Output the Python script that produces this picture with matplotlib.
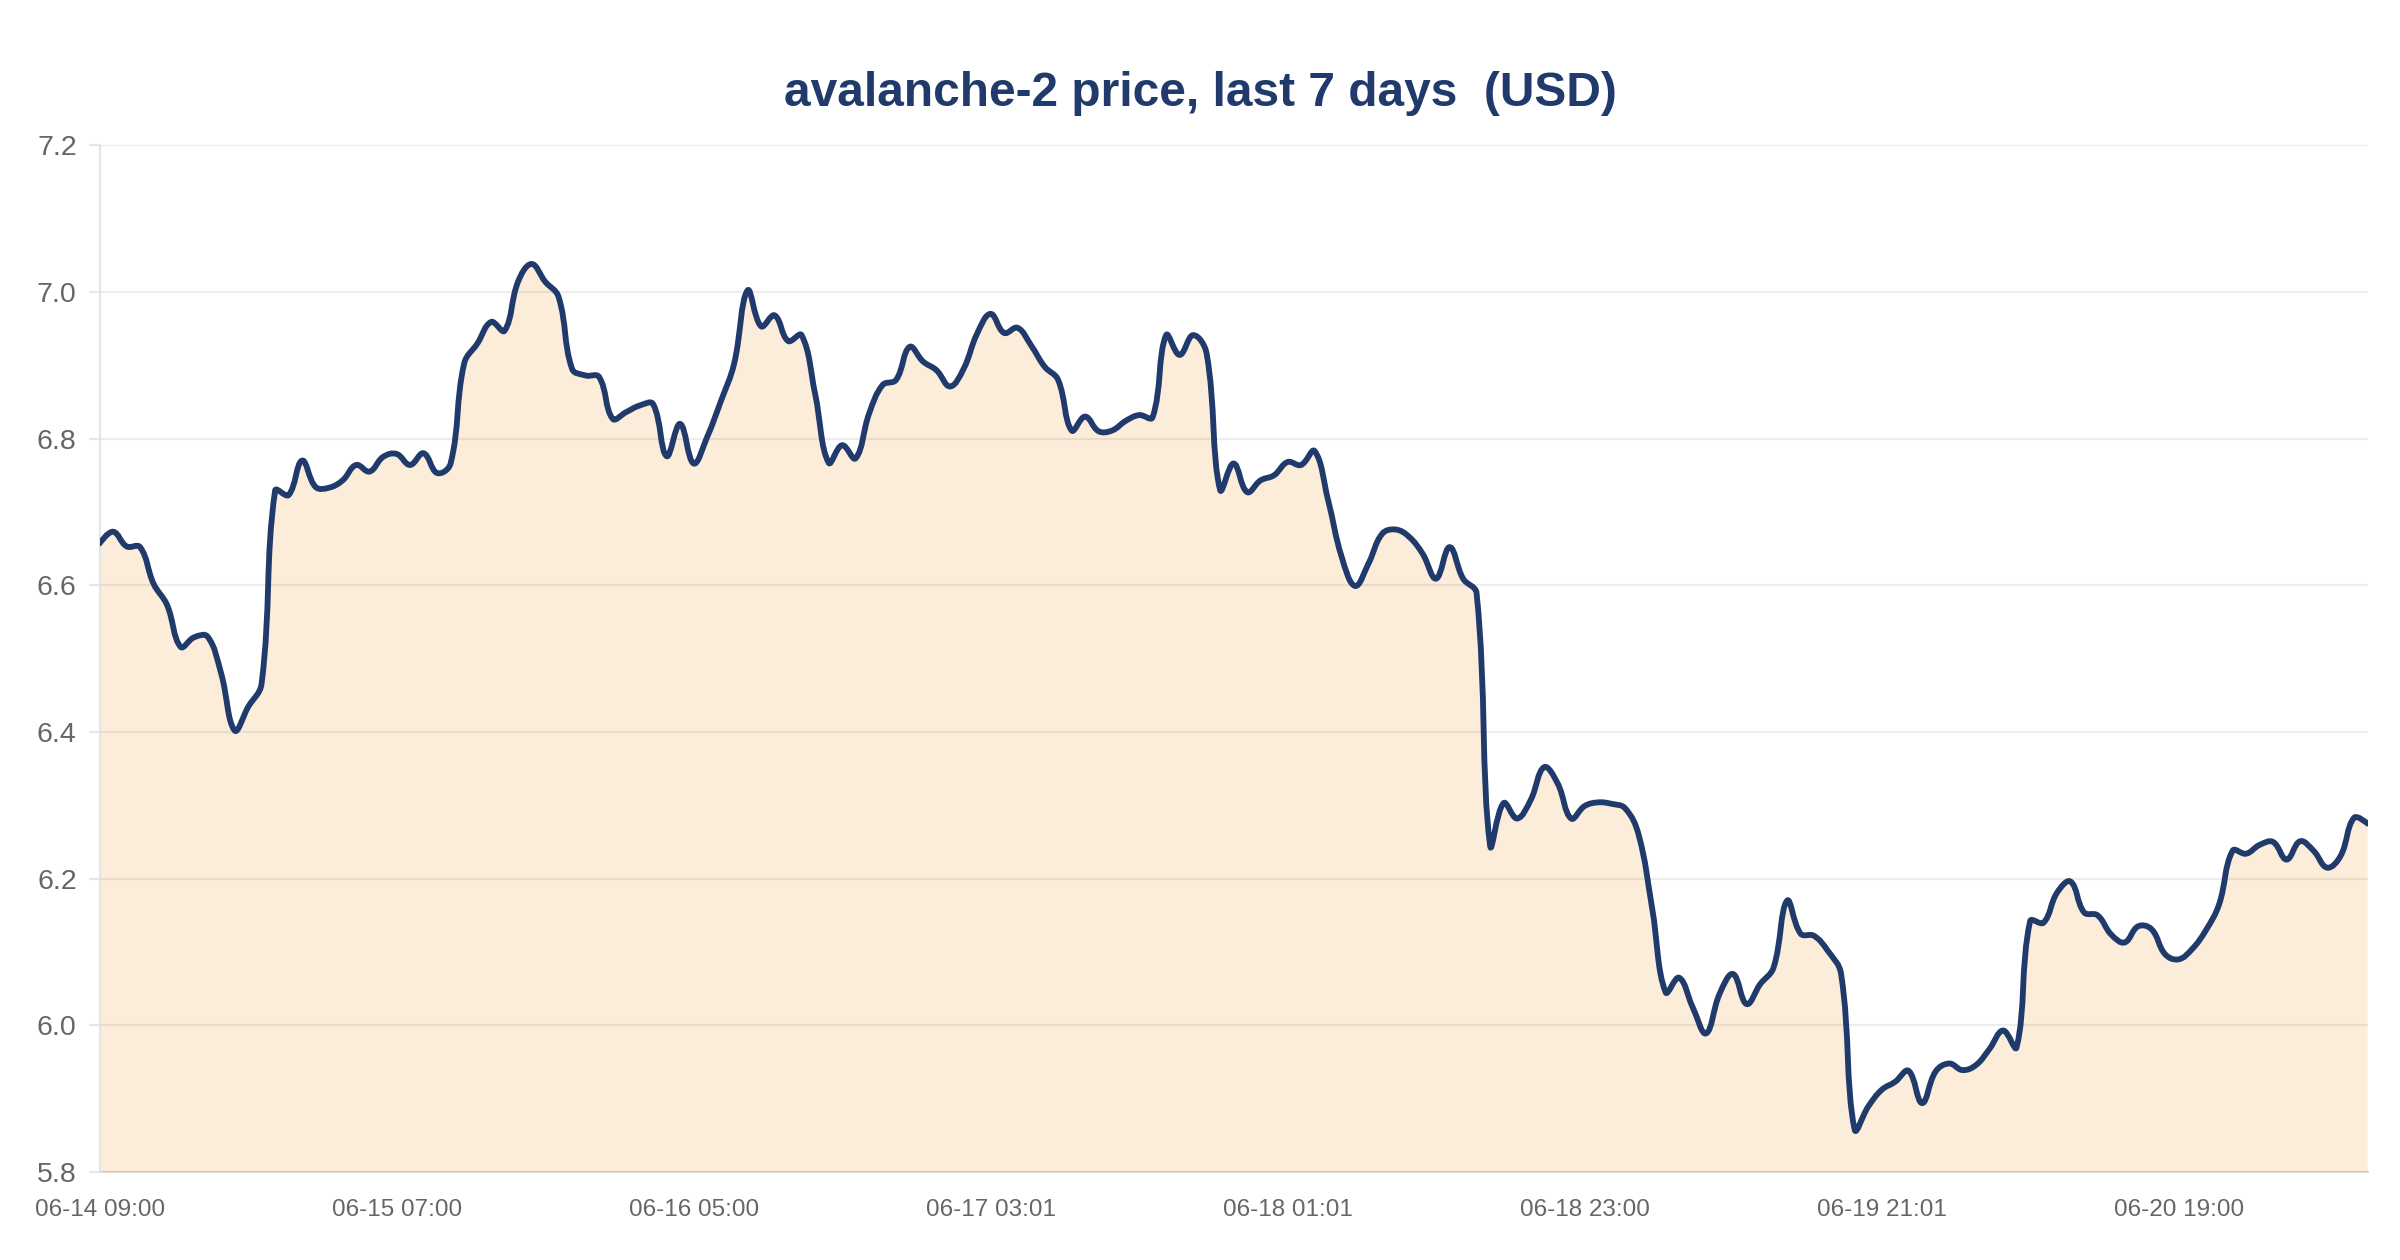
import numpy as np
import matplotlib
matplotlib.use("Agg")
import matplotlib.pyplot as plt
from matplotlib.path import Path
from matplotlib.patches import PathPatch

# hourly prices, 06-14 09:00 -> 06-21 09:00 (169 points)
prices = [
    6.657, 6.673, 6.653, 6.652, 6.602, 6.573, 6.516, 6.529, 6.530, 6.480,
    6.402, 6.434, 6.466, 6.729, 6.723, 6.770, 6.734, 6.733, 6.743, 6.764,
    6.755, 6.775, 6.779, 6.764, 6.780, 6.753, 6.766, 6.902, 6.930, 6.959,
    6.947, 7.014, 7.038, 7.014, 6.993, 6.895, 6.886, 6.884, 6.827, 6.836,
    6.845, 6.847, 6.776, 6.820, 6.766, 6.802, 6.850, 6.902, 7.002, 6.953,
    6.968, 6.933, 6.941, 6.861, 6.767, 6.791, 6.773, 6.834, 6.873, 6.880,
    6.925, 6.905, 6.893, 6.871, 6.895, 6.943, 6.970, 6.944, 6.951, 6.927,
    6.898, 6.880, 6.811, 6.830, 6.810, 6.811, 6.824, 6.832, 6.829, 6.941,
    6.914, 6.941, 6.916, 6.730, 6.766, 6.727, 6.743, 6.750, 6.768, 6.764,
    6.783, 6.716, 6.639, 6.599, 6.630, 6.670, 6.676, 6.666, 6.643, 6.609,
    6.652, 6.609, 6.589, 6.245, 6.303, 6.282, 6.307, 6.352, 6.330, 6.282,
    6.299, 6.304, 6.302, 6.296, 6.260, 6.160, 6.045, 6.065, 6.025, 5.989,
    6.043, 6.070, 6.029, 6.056, 6.079, 6.170, 6.125, 6.122, 6.102, 6.070,
    5.858, 5.889, 5.912, 5.923, 5.938, 5.894, 5.937, 5.948, 5.939, 5.946,
    5.968, 5.993, 5.970, 6.142, 6.140, 6.181, 6.196, 6.154, 6.150, 6.124,
    6.113, 6.135, 6.131, 6.097, 6.090, 6.104, 6.129, 6.165, 6.238, 6.234,
    6.246, 6.250, 6.226, 6.251, 6.238, 6.215, 6.231, 6.283, 6.275,
]
tick_pos = [0, 22, 44, 66, 88, 110, 132, 154]
tick_labels = ["06-14 09:00", "06-15 07:00", "06-16 05:00", "06-17 03:01",
               "06-18 01:01", "06-18 23:00", "06-19 21:01", "06-20 19:00"]
y_ticks = [5.8, 6.0, 6.2, 6.4, 6.6, 6.8, 7.0, 7.2]

line_col = "#1f3a6b"
fill_col = "#fcecda"

plt.rcParams['font.family'] = ['Liberation Sans', 'DejaVu Sans']

fig = plt.figure(figsize=(24, 12.6), dpi=100)
ax = fig.add_axes([0.0415, 0.0698, 0.945, 0.815])
ax.set_xlim(0, len(prices) - 1)
ax.set_ylim(y_ticks[0], y_ticks[-1])

# smooth curve (spline with tension 0.4, computed in pixel space)
x = np.arange(len(prices))
pts = ax.transData.transform(np.column_stack([x, prices]))
t = 0.4
n = len(pts)
cp_prev = pts.copy()
cp_next = pts.copy()
for i in range(1, n - 1):
    p0, p1, p2 = pts[i - 1], pts[i], pts[i + 1]
    d01 = np.hypot(*(p1 - p0))
    d12 = np.hypot(*(p2 - p1))
    fa = t * d01 / (d01 + d12)
    fb = t * d12 / (d01 + d12)
    cp_prev[i] = p1 - fa * (p2 - p0)
    cp_next[i] = p1 + fb * (p2 - p0)

verts = [pts[0]]
codes = [Path.MOVETO]
for i in range(n - 1):
    verts += [cp_next[i], cp_prev[i + 1], pts[i + 1]]
    codes += [Path.CURVE4] * 3
inv = ax.transData.inverted()
verts = inv.transform(np.array(verts))

curve = Path(verts, codes)
fill_verts = np.vstack([verts, [[x[-1], y_ticks[0]], [x[0], y_ticks[0]], [x[0], y_ticks[0]]]])
fill_codes = codes + [Path.LINETO, Path.LINETO, Path.CLOSEPOLY]
ax.add_patch(PathPatch(Path(fill_verts, fill_codes), facecolor=fill_col,
                       edgecolor="none", zorder=1))
ax.add_patch(PathPatch(curve, facecolor="none", edgecolor=line_col, lw=4.2,
                       capstyle="round", joinstyle="round", zorder=3))

ax.set_yticks(y_ticks)
ax.set_yticklabels([f"{v:.1f}" for v in y_ticks])
ax.set_xticks(tick_pos)
ax.set_xticklabels(tick_labels)
ax.tick_params(axis="y", length=8, width=1.5, color="#e6e6e6",
               labelsize=20.5, labelcolor="#666666", pad=8.5)
ax.tick_params(axis="x", length=0, labelsize=17.5, labelcolor="#666666", pad=19.5)
ax.set_axisbelow(False)
ax.grid(axis="y", color="black", alpha=0.07, lw=1.5, zorder=2)
ax.grid(axis="x", visible=False)
for s in ["top", "right"]:
    ax.spines[s].set_visible(False)
ax.spines["left"].set_color("#e4e4e4")
ax.spines["left"].set_linewidth(1.5)
ax.spines["bottom"].set_color("#e4dcd2")
ax.spines["bottom"].set_linewidth(1.5)

fig.text(0.5, 0.926, "avalanche-2 price, last 7 days  (USD)", ha="center",
         va="center", fontsize=34.5, fontweight="bold", color=line_col)

fig.savefig("out.png", dpi=100)
